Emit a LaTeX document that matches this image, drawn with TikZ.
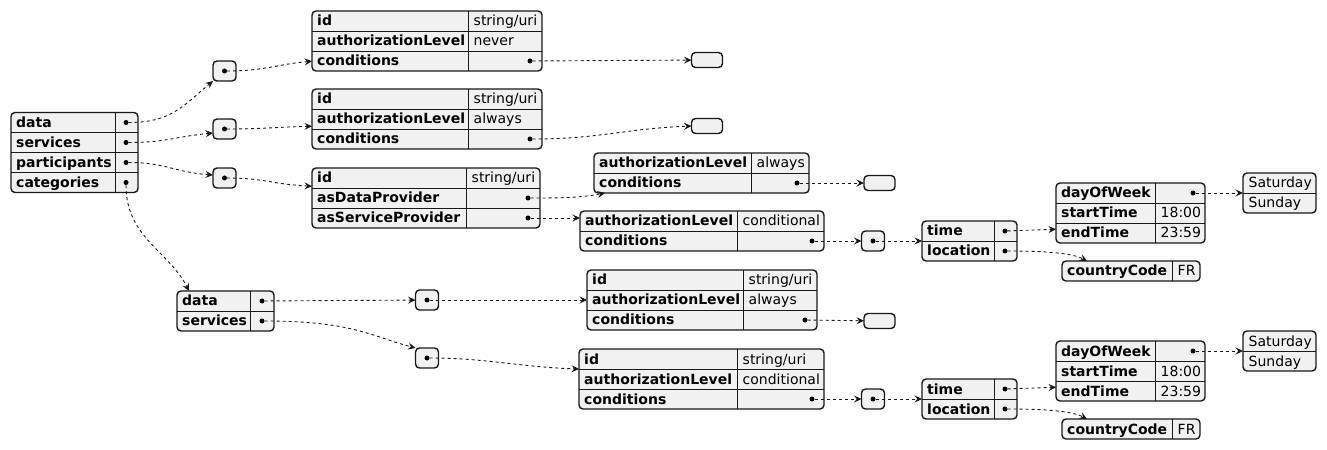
\documentclass[tikz,border=0pt]{standalone}
\usepackage{fontspec}
\setmainfont{DejaVu Sans}
\usetikzlibrary{arrows.meta}
\definecolor{JsonFill}{HTML}{F1F1F1}
\definecolor{JsonLine}{HTML}{181818}

% name, left, top, key width, value width, rows, key/value list (* = link dot)
\newcommand\jtab[7]{%
  \node[tab, minimum width={(#4+#5)*1bp}, minimum height={20*#6*1bp}] (#1) at (#2,#3) {};
  \draw[grid] ({#2+#4},#3) -- ++(0,20*#6);
  \foreach \k/\v [count=\i] in {#7} {
    \ifnum\i>1 \draw[grid] (#2,{#3+20*(\i-1)}) -- ++({#4+#5},0); \fi
    \node[key] (#1-k\i) at (#2,{#3+20*\i-5}) {\k};
    \if*\v
      \node[dot] (#1-d\i) at ({#2+#4+#5-12},{#3+20*\i-10}) {};
    \else
      \node[val] (#1-v\i) at ({#2+#4},{#3+20*\i-5}) {\v};
    \fi
  }
}
% name, left, top, width, rows, items
\newcommand\jlist[6]{%
  \node[tab, minimum width={#4*1bp}, minimum height={20*#5*1bp}] (#1) at (#2,#3) {};
  \foreach \k [count=\i] in {#6} {
    \ifnum\i>1 \draw[grid] (#2,{#3+20*(\i-1)}) -- ++(#4,0); \fi
    \node[val] (#1-k\i) at (#2,{#3+20*\i-5}) {\k};
  }
}

\begin{document}
\begin{tikzpicture}[
    x=1bp, y=-1bp,
    every node/.style={font=\fontsize{14bp}{16bp}\selectfont},
    tab/.style={draw=JsonLine, fill=JsonFill, line width=1.4bp, rounded corners=4bp, inner sep=0, outer sep=0, anchor=north west},
    grid/.style={draw=JsonLine, line width=0.9bp},
    key/.style={anchor=base west, inner xsep=5bp, inner ysep=3bp, text height=11bp, text depth=1.5bp, font=\fontsize{14bp}{16bp}\selectfont\bfseries},
    val/.style={key, inner xsep=5.5bp, font=\fontsize{14bp}{16bp}\selectfont},
    dot/.style={circle, fill=black, inner sep=0, minimum size=5bp},
    arr/.style={tab, anchor=center, minimum width=23bp, minimum height=20bp},
    emp/.style={tab, anchor=center, minimum width=31bp, minimum height=15bp},
    link/.style={draw=JsonLine, line width=0.9bp, dash pattern=on 3bp off 3bp, -{Stealth[length=7.5bp,width=7bp,inset=2.8bp]}}
  ]
  \useasboundingbox (0,0) rectangle (1327,450);

  \jtab{tR}{11}{112.5}{104}{23}{4}{data/*, services/*, participants/*, categories/*}

  \node[arr] (bA) at (224.5,71) {};  \node[dot] (bA-d) at (bA) {};
  \node[arr] (bB) at (224.5,129) {}; \node[dot] (bB-d) at (bB) {};
  \node[arr] (bC) at (224.5,178) {}; \node[dot] (bC-d) at (bC) {};

  \jtab{t1}{312}{11}{156}{74}{3}{id/{string/uri}, authorizationLevel/never, conditions/*}
  \jtab{t2}{312}{89}{156}{74}{3}{id/{string/uri}, authorizationLevel/always, conditions/*}
  \jtab{t3}{312}{168}{154}{74}{3}{id/{string/uri}, asDataProvider/*, asServiceProvider/*}
  \node[emp] (e1) at (707,60) {};
  \node[emp] (e2) at (707,126) {};

  \jtab{tdp}{594}{153}{157}{58}{2}{authorizationLevel/always, conditions/*}
  \jtab{tsp}{580}{211}{157}{87}{2}{authorizationLevel/conditional, conditions/*}
  \node[emp] (e3) at (879.5,183) {};
  \node[arr] (bF1) at (873,241) {}; \node[dot] (bF1-d) at (bF1) {};

  \jtab{tt1}{922}{221}{72}{23}{2}{time/*, location/*}
  \jtab{td1}{1056}{183}{99}{50}{3}{dayOfWeek/*, startTime/18:00, endTime/23:59}
  \jlist{ta1}{1243}{173}{73}{2}{Saturday, Sunday}
  \jtab{tc1}{1062}{261}{110}{28}{1}{countryCode/FR}

  \jtab{tcat}{177}{291}{73}{24}{2}{data/*, services/*}
  \node[arr] (bD) at (427,300) {}; \node[dot] (bD-d) at (bD) {};
  \node[arr] (bE) at (427,358) {}; \node[dot] (bE-d) at (bE) {};

  \jtab{t4}{587}{270}{156}{74}{3}{id/{string/uri}, authorizationLevel/always, conditions/*}
  \jtab{t5}{579}{349}{158}{87}{3}{id/{string/uri}, authorizationLevel/conditional, conditions/*}
  \node[emp] (e4) at (879.5,321) {};
  \node[arr] (bF2) at (873,399) {}; \node[dot] (bF2-d) at (bF2) {};

  \jtab{tt2}{922}{379}{72}{23}{2}{time/*, location/*}
  \jtab{td2}{1056}{341}{99}{50}{3}{dayOfWeek/*, startTime/18:00, endTime/23:59}
  \jlist{ta2}{1243}{331}{73}{2}{Saturday, Sunday}
  \jtab{tc2}{1062}{419}{110}{28}{1}{countryCode/FR}

  % root links
  \draw[link] (tR-d1) .. controls +(45,0) and +(-30,25) .. (bA.south west);
  \draw[link] (tR-d2) .. controls +(40,0) and +(-40,4) .. ([yshift=-4bp]bB.west);
  \draw[link] (tR-d3) .. controls +(40,0) and +(-40,-3) .. ([yshift=3bp]bC.west);
  \draw[link] (tR-d4) .. controls +(0,55) and +(-20,-40) .. ([xshift=12bp]tcat.north west);

  % data / services / participants
  \draw[link] (bA-d) .. controls +(40,0) and +(-35,3) .. (t1-k3.west);
  \draw[link] (bB-d) .. controls +(40,0) and +(-40,1) .. ([yshift=-7bp]t2-k2.west);
  \draw[link] (bC-d) .. controls +(40,0) and +(-40,-2) .. ([yshift=-8bp]t3-k1.west);
  \draw[link] (t1-d3) -- (e1);
  \draw[link] (t2-d3) .. controls +(70,0) and +(-70,3) .. (e2.west);
  \draw[link] (t3-d2) .. controls +(30,0) and +(-25,5) .. ([xshift=11bp]tdp.south west);
  \draw[link] (t3-d3) -- (t3-d3 -| tsp.west);
  \draw[link] (tdp-d2) -- (e3);
  \draw[link] (tsp-d2) -- (bF1);
  \draw[link] (bF1-d) -- (tt1.west);
  \draw[link] (tt1-d1) -- ([yshift=4bp]td1-k3.west);
  \draw[link] (tt1-d2) .. controls +(40,0) and +(-15,-8) .. ([xshift=25bp]tc1.north west);
  \draw[link] (td1-d1) -- (ta1.west);

  % categories
  \draw[link] (tcat-d1) -- (bD);
  \draw[link] (tcat-d2) .. controls +(90,0) and +(-45,-12) .. (bE.north west);
  \draw[link] (bD-d) -- (t4.west);
  \draw[link] (bE-d) .. controls +(60,0) and +(-60,-2) .. ([yshift=10bp]t5.west);
  \draw[link] (t4-d3) -- (e4);
  \draw[link] (t5-d3) -- (bF2);
  \draw[link] (bF2-d) -- (tt2.west);
  \draw[link] (tt2-d1) -- ([yshift=4bp]td2-k3.west);
  \draw[link] (tt2-d2) .. controls +(40,0) and +(-15,-8) .. ([xshift=25bp]tc2.north west);
  \draw[link] (td2-d1) -- (ta2.west);
\end{tikzpicture}
\end{document}
